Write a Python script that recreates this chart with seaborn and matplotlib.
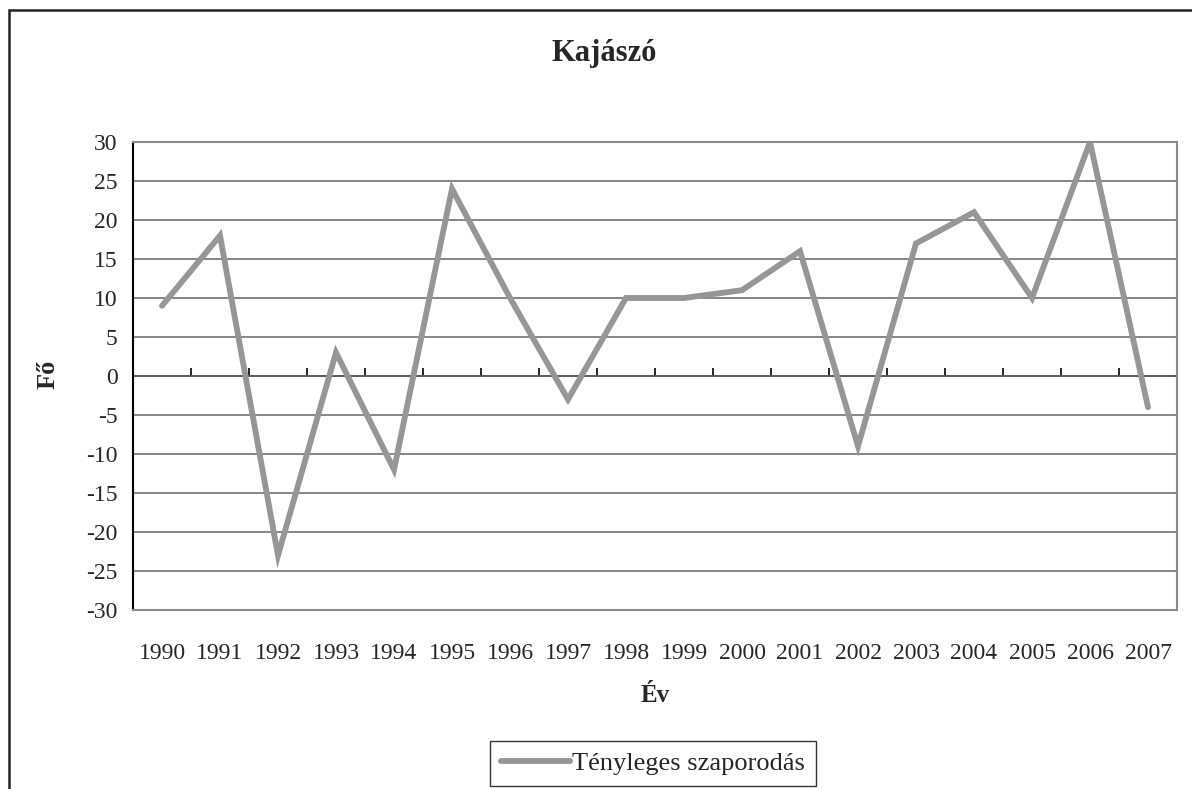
import matplotlib
matplotlib.use("Agg")
import matplotlib.pyplot as plt
from matplotlib.patches import Rectangle
import seaborn as sns
import pandas as pd
import numpy as np

# Natural increase (persons) per year
years = [1990, 1991, 1992, 1993, 1994, 1995, 1996, 1997, 1998,
         1999, 2000, 2001, 2002, 2003, 2004, 2005, 2006, 2007]
increase = [9, 18, -23, 3, -12, 24, 10, -3, 10,
            10, 11, 16, -9, 17, 21, 10, 30, -4]
y_ticks = list(range(-30, 31, 5))

title = "Kajászó"
x_label = "Év"
y_label = "Fő"
series_name = "Tényleges szaporodás"

sns.set_theme(style="white")
plt.rcParams["font.family"] = ["Liberation Serif", "DejaVu Serif"]

df = pd.DataFrame({"pos": np.arange(len(years)), "value": increase})

W, H = 1192, 789
fig = plt.figure(figsize=(W / 100, H / 100), dpi=100)
ax = fig.add_axes([133 / W, 1 - 610 / H, (1177 - 133) / W, (610 - 142) / H])

line_color = "#969696"
grid_color = "#666666"

sns.lineplot(data=df, x="pos", y="value", ax=ax, color=line_color,
             linewidth=4.2, solid_joinstyle="miter", solid_capstyle="round",
             label=series_name, legend=False)

ax.set_xlim(-0.5, len(years) - 0.5)
ax.set_ylim(-30, 30)
ax.set_yticks(y_ticks)
ax.set_yticklabels([str(t) for t in y_ticks], fontsize=17)
ax.set_xticks(np.arange(len(years)))
ax.set_xticklabels([str(y) for y in years], fontsize=17)
ax.tick_params(axis="x", length=0, pad=24)
ax.tick_params(axis="y", direction="out", length=8, width=1.2, color="black", pad=3)
ax.grid(axis="y", color=grid_color, linewidth=1.1)
ax.grid(axis="x", visible=False)
ax.set_axisbelow(True)
ax.set_xlabel("")
ax.set_ylabel("")

for side in ["top", "right", "bottom"]:
    ax.spines[side].set_color("#8a8a8a")
    ax.spines[side].set_linewidth(1.5)
ax.spines["left"].set_color("black")
ax.spines["left"].set_linewidth(1.5)

# category axis crossing at zero, with tick marks between categories
zero_axis = ax.secondary_xaxis(0.5)
zero_axis.set_xticks(np.arange(len(years) + 1) - 0.5)
zero_axis.set_xticklabels([])
zero_axis.tick_params(direction="out", length=6, width=1.2, color="black")
zero_axis.spines["bottom"].set_color("black")
zero_axis.spines["bottom"].set_linewidth(1.2)

fig.text(604 / W, 1 - 53 / H, title, fontsize=22, fontweight="bold",
         ha="center", va="center")
fig.text(655 / W, 1 - 696 / H, x_label, fontsize=18, fontweight="bold",
         ha="center", va="center")
fig.text(48 / W, 1 - 374 / H, y_label, fontsize=19, fontweight="bold",
         ha="center", va="center", rotation=90)

# legend box at the bottom
fig.legend(handles=ax.get_lines()[:1], labels=[series_name],
           loc="upper center", bbox_to_anchor=(653 / W, 1 - 741 / H),
           frameon=True, fancybox=False, edgecolor="black", fontsize=19,
           handlelength=2.6, handletextpad=0.1, borderpad=0.4,
           borderaxespad=0)

# outer chart frame
fig.patches.append(Rectangle((8.5 / W, -0.1), 1.2, 1 - 10 / H + 0.1,
                             transform=fig.transFigure, fill=False,
                             edgecolor="#222222", linewidth=1.8))

fig.savefig("out.png", dpi=100)
